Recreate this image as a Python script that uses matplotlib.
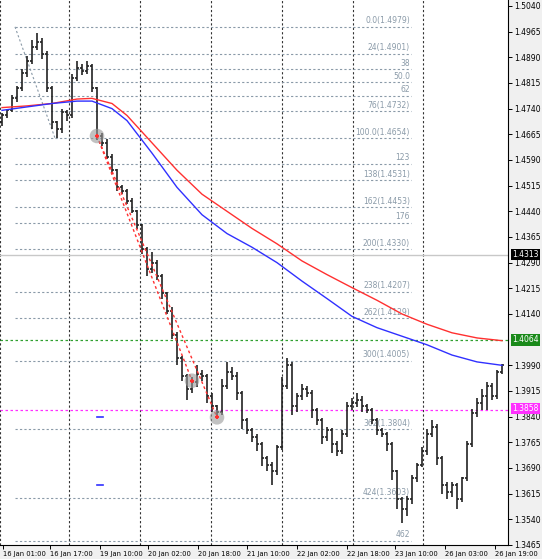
import numpy as np
import matplotlib.pyplot as plt
from matplotlib.collections import LineCollection

# bar closes (open = previous close)
closes = [1.4720, 1.4735, 1.4770, 1.4800, 1.4845, 1.4880, 1.4920, 1.4935, 1.4900, 1.4800,
          1.4700, 1.4680, 1.4730, 1.4720, 1.4830, 1.4860, 1.4850, 1.4865, 1.4800, 1.4660,
          1.4640, 1.4600, 1.4560, 1.4510, 1.4500, 1.4470, 1.4440, 1.4400, 1.4330, 1.4270,
          1.4290, 1.4250, 1.4200, 1.4150, 1.4080, 1.4010, 1.3960, 1.3920, 1.3940, 1.3965,
          1.3960, 1.3900, 1.3870, 1.3855, 1.3930, 1.3970, 1.3960, 1.3910, 1.3830, 1.3800,
          1.3780, 1.3760, 1.3720, 1.3700, 1.3680, 1.3750, 1.3930, 1.3990, 1.3870, 1.3900,
          1.3920, 1.3910, 1.3860, 1.3830, 1.3780, 1.3800, 1.3760, 1.3740, 1.3790, 1.3870,
          1.3880, 1.3890, 1.3870, 1.3860, 1.3830, 1.3800, 1.3790, 1.3760, 1.3680, 1.3600,
          1.3570, 1.3600, 1.3660, 1.3700, 1.3740, 1.3790, 1.3810, 1.3720, 1.3640, 1.3620,
          1.3640, 1.3600, 1.3660, 1.3760, 1.3850, 1.3880, 1.3900, 1.3930, 1.3900, 1.3970,
          1.3990]
first_open = 1.4700
# wick extensions in pips above max(open, close) and below min(open, close)
wick_up = [8, 5, 10, 6, 12, 15, 20, 25, 10, 8, 6, 5, 10, 6, 12, 20, 10, 15, 6, 4,
           8, 10, 6, 5, 8, 6, 10, 5, 4, 6, 30, 8, 6, 5, 10, 6, 8, 5, 15, 25,
           10, 6, 8, 4, 20, 30, 15, 10, 6, 5, 8, 10, 6, 5, 8, 6, 25, 20, 10, 8,
           15, 10, 8, 6, 5, 10, 6, 8, 10, 12, 15, 20, 10, 8, 6, 5, 8, 6, 5, 4,
           6, 8, 10, 6, 12, 15, 20, 8, 6, 10, 8, 6, 5, 10, 12, 15, 20, 10, 8, 6, 4]
wick_dn = [10, 8, 6, 10, 8, 12, 10, 8, 15, 10, 20, 25, 10, 15, 8, 10, 12, 8, 10, 12,
           10, 8, 12, 10, 8, 10, 6, 12, 15, 20, 10, 12, 15, 10, 12, 20, 15, 30, 10, 12,
           15, 20, 15, 20, 10, 8, 12, 20, 25, 10, 15, 20, 25, 20, 40, 10, 8, 10, 25, 15,
           10, 12, 25, 15, 20, 10, 25, 15, 10, 8, 10, 12, 15, 10, 12, 15, 10, 20, 25, 30,
           40, 20, 15, 10, 8, 12, 10, 20, 25, 20, 15, 30, 10, 8, 10, 12, 20, 40, 10, 8, 6]

# moving averages, sampled along the bars
ma_idx = [0, 5, 10, 15, 18, 22, 25, 30, 35, 40, 45, 50, 55, 60, 65, 70, 75, 80, 85, 90, 95, 100]
ma_red = [1.4743, 1.4748, 1.4755, 1.4768, 1.4770, 1.4755, 1.4720, 1.4640, 1.4560, 1.4490, 1.4440,
          1.4390, 1.4345, 1.4295, 1.4255, 1.4217, 1.4180, 1.4140, 1.4110, 1.4085, 1.4070, 1.4062]
ma_blue = [1.4735, 1.4745, 1.4755, 1.4762, 1.4762, 1.4740, 1.4705, 1.4610, 1.4510, 1.4430, 1.4375,
           1.4335, 1.4290, 1.4236, 1.4185, 1.4133, 1.4100, 1.4075, 1.4050, 1.4020, 1.4000, 1.3990]

fib_pct = [0, 24, 38, 50, 62, 76, 100, 123, 138, 162, 176, 200, 238, 262, 300, 362, 424, 462]
fib_text = ["0.0(1.4979)", "24(1.4901)", "38", "50.0", "62", "76(1.4732)", "100.0(1.4654)",
            "123", "138(1.4531)", "162(1.4453)", "176", "200(1.4330)", "238(1.4207)",
            "262(1.4129)", "300(1.4005)", "362(1.3804)", "424(1.3603)", "462"]
fib_hi, fib_lo = 1.4979, 1.4654

yticks = [1.5040, 1.4965, 1.4890, 1.4815, 1.4740, 1.4665, 1.4590, 1.4515, 1.4440, 1.4365,
          1.4290, 1.4215, 1.4140, 1.3990, 1.3915, 1.3840, 1.3765, 1.3690, 1.3615, 1.3540, 1.3465]
xtick_pos = [0.2, 9.6, 19.6, 29.2, 39.2, 49.0, 59.0, 69.0, 78.6, 88.6, 98.6]
xtick_lab = ["16 Jan 01:00", "16 Jan 17:00", "19 Jan 10:00", "20 Jan 02:00", "20 Jan 18:00",
             "21 Jan 10:00", "22 Jan 02:00", "22 Jan 18:00", "23 Jan 10:00", "26 Jan 03:00",
             "26 Jan 19:00"]
vgrid = [-0.4, 13.4, 27.6, 41.8, 56.0, 70.2, 84.2]

bid, green_lvl, pink_lvl = 1.4313, 1.4064, 1.3858

fig = plt.figure(figsize=(5.42, 5.59), dpi=100)
fig.patch.set_facecolor("#f0f0f0")
ax = fig.add_axes([0, 14 / 559, 508 / 542, 545 / 559])
ax.set_facecolor("white")
ax.set_xlim(-0.4, 101.2)
ax.set_ylim(1.34731, 1.50574)

opens = [first_open] + closes[:-1]
segs = []
for i, (o, c) in enumerate(zip(opens, closes)):
    hi = max(o, c) + wick_up[i] * 0.0001
    lo = min(o, c) - wick_dn[i] * 0.0001
    segs.append([(i, lo), (i, hi)])
    segs.append([(i - 0.4, o), (i, o)])
    segs.append([(i, c), (i + 0.4, c)])
ax.add_collection(LineCollection(segs, colors="#222222", linewidths=1.2, zorder=4))

for xv in vgrid:
    ax.axvline(xv, color="#333333", ls=(0, (2, 2)), lw=0.8, zorder=1)

rng = fib_hi - fib_lo
for p, t in zip(fib_pct, fib_text):
    lv = fib_hi - p / 100 * rng
    ax.plot([2.6, 81.8], [lv, lv], color="#8a9aa8", ls=(0, (2, 2)), lw=0.8, zorder=2)
    ax.text(81.6, lv + 0.0004, t, fontsize=5.5, color="#8a9aa8", ha="right", va="bottom", zorder=3)
ax.plot([2.6, 10.6], [fib_hi, fib_lo], color="#8a9aa8", ls=(0, (2, 2)), lw=0.8, zorder=2)

ax.plot(ma_idx, ma_red, color="#ff3030", lw=1.0, zorder=5)
ax.plot(ma_idx, ma_blue, color="#3030ff", lw=1.0, zorder=5)

ax.axhline(bid, color="#c8c8c8", lw=1.0, zorder=2)
ax.axhline(green_lvl, color="#30a030", ls=(0, (2, 2)), lw=0.9, zorder=2)
ax.axhline(pink_lvl, color="#ff30ff", ls=(0, (2, 2)), lw=0.9, zorder=2)

# zigzag points
pts_x = [19.0, 38.0, 43.0]
pts_y = [1.4660, 1.3945, 1.3838]
ax.plot([pts_x[0], pts_x[2]], [pts_y[0], pts_y[2]], color="#ff3030", ls=(0, (2, 2)), lw=1.0, zorder=6)
ax.plot([pts_x[0], pts_x[1]], [pts_y[0], pts_y[1]], color="#ff3030", ls=(0, (2, 2)), lw=1.0, zorder=6)
ax.scatter(pts_x, pts_y, s=110, color="#999999", alpha=0.6, zorder=7, edgecolors="none")
ax.scatter(pts_x, pts_y, s=12, color="#ff3030", marker="+", zorder=8)
ax.plot([19.0, 20.2], [1.3838, 1.3838], color="#3030ff", lw=1.2, zorder=6)
ax.plot([19.0, 20.2], [1.3640, 1.3640], color="#3030ff", lw=1.2, zorder=6)

ax.yaxis.tick_right()
ax.set_yticks(yticks)
ax.set_yticklabels([f"{v:.4f}" for v in yticks], fontsize=5.5)
ax.set_xticks(xtick_pos)
ax.set_xticklabels(xtick_lab, fontsize=4.9, ha="left")
ax.tick_params(axis="both", length=3, width=0.7, pad=1.5, colors="black")
for s in ["top", "left"]:
    ax.spines[s].set_visible(False)
ax.spines["right"].set_linewidth(0.8)
ax.spines["bottom"].set_linewidth(0.8)

for lv, txt, bg, dy in [(bid, "1.4313", "black", 0.0), (green_lvl, "1.4064", "#1a8a1a", 0.0),
                        (pink_lvl, "1.3858", "#ff30ff", 0.0005)]:
    ax.text(1.008, lv + dy, txt, transform=ax.get_yaxis_transform(), fontsize=5.5, color="white",
            va="center", ha="left", bbox=dict(boxstyle="square,pad=0.15", fc=bg, ec="none"), zorder=10)

fig.savefig("out.png", dpi=100, facecolor=fig.get_facecolor())
